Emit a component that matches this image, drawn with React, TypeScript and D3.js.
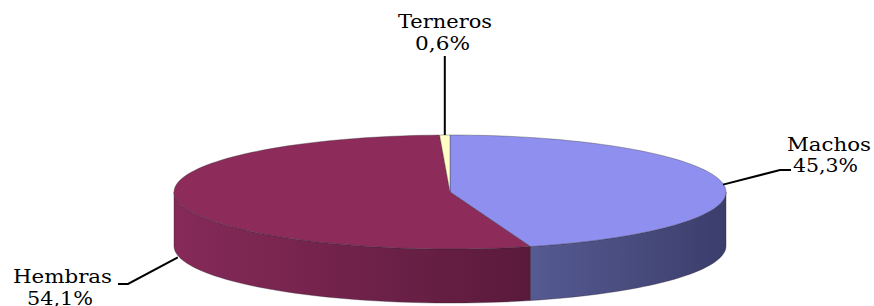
import * as d3 from "d3";
import React from "react";

const categories = ["Machos", "Hembras", "Terneros"];
const values = [45.3, 54.1, 0.6];
const valueLabels = ["45,3%", "54,1%", "0,6%"];

const topColors = ["#8f8ff0", "#8d2b5b", "#ffffc6"];
const sideColors: [string, string][] = [
  ["#555a92", "#3b3e6b"],
  ["#862a59", "#5a1a3b"],
  ["#d8d8a0", "#b8b880"],
];

const W = 874;
const H = 306;
const cx = 450;
const cy = 192;
const rx = 276;
const ry = 57;
const depth = 54;

const pt = (a: number, dy = 0): [number, number] => [
  cx + rx * Math.sin(a),
  cy - ry * Math.cos(a) + dy,
];

const topPath = (a0: number, a1: number) => {
  const p = d3.path();
  p.moveTo(cx, cy);
  const n = Math.max(2, Math.ceil(((a1 - a0) / Math.PI) * 90));
  for (let i = 0; i <= n; i++) {
    const [x, y] = pt(a0 + ((a1 - a0) * i) / n);
    p.lineTo(x, y);
  }
  p.closePath();
  return p.toString();
};

const sidePath = (a0: number, a1: number) => {
  const p = d3.path();
  const n = Math.max(2, Math.ceil(((a1 - a0) / Math.PI) * 90));
  for (let i = 0; i <= n; i++) {
    const [x, y] = pt(a0 + ((a1 - a0) * i) / n);
    if (i === 0) p.moveTo(x, y);
    else p.lineTo(x, y);
  }
  for (let i = n; i >= 0; i--) {
    const [x, y] = pt(a0 + ((a1 - a0) * i) / n, depth);
    p.lineTo(x, y);
  }
  p.closePath();
  return p.toString();
};

// label layout: name line and value line (x start, baseline, width)
const labelLayout = [
  { nx: 787, ny: 151, nw: 84, vx: 793, vy: 172, vw: 65 },
  { nx: 13, ny: 283, nw: 99, vx: 27, vy: 305, vw: 66 },
  { nx: 398, ny: 28, nw: 94, vx: 415, vy: 50, vw: 55 },
];

const App: React.FC = () => {
  const arcs = d3
    .pie<number>()
    .sort(null)
    .startAngle(0)
    .endAngle(2 * Math.PI)(values);

  const front0 = Math.PI / 2;
  const front1 = (3 * Math.PI) / 2;

  const font = "'DejaVu Serif', serif";

  return (
    <svg
      width={W}
      height={H}
      style={{ position: "absolute", left: 0, top: 0, background: "#fff" }}
    >
      <defs>
        {arcs.map((a, i) => {
          const s = Math.max(a.startAngle, front0);
          const e = Math.min(a.endAngle, front1);
          const x0 = s < e ? pt(s)[0] : 0;
          const x1 = s < e ? pt(e)[0] : 1;
          return (
            <linearGradient
              key={i}
              id={`side${i}`}
              gradientUnits="userSpaceOnUse"
              x1={Math.min(x0, x1)}
              x2={Math.max(x0, x1)}
              y1={0}
              y2={0}
            >
              <stop offset="0%" stopColor={sideColors[i][0]} />
              <stop offset="100%" stopColor={sideColors[i][1]} />
            </linearGradient>
          );
        })}
      </defs>
      {/* side walls */}
      {arcs.map((a, i) => {
        const s = Math.max(a.startAngle, front0);
        const e = Math.min(a.endAngle, front1);
        if (s >= e) return null;
        return (
          <path
            key={`s${i}`}
            d={sidePath(s, e)}
            fill={`url(#side${i})`}
            stroke="#2a1a2a"
            strokeWidth={0.6}
            strokeOpacity={0.6}
          />
        );
      })}
      {/* top faces */}
      {arcs.map((a, i) => (
        <path
          key={`t${i}`}
          d={topPath(a.startAngle, a.endAngle)}
          fill={topColors[i]}
          stroke="#333"
          strokeWidth={0.6}
          strokeOpacity={0.6}
        />
      ))}
      {/* leader lines and labels */}
      {arcs.map((a, i) => {
        const mid = (a.startAngle + a.endAngle) / 2;
        const lp = labelLayout[i];
        let d: string;
        if (i === 0) {
          const [ax, ay] = pt(mid);
          d = `M${ax},${ay + 1}L${lp.vx - 13},${lp.vy - 2}L${lp.vx - 2},${lp.vy - 2}`;
        } else if (i === 1) {
          const [ax, ay] = pt(mid, depth + 2);
          d = `M${ax},${ay}L${lp.nx + lp.nw + 16},${lp.ny + 1}L${lp.nx + lp.nw + 6},${lp.ny + 1}`;
        } else {
          const [ax, ay] = pt(mid);
          d = `M${ax},${ay}L${ax},${lp.vy + 6}`;
        }
        return (
          <g key={`l${i}`}>
            <path d={d} fill="none" stroke="#000" strokeWidth={2} />
            <text
              x={lp.nx}
              y={lp.ny}
              textLength={lp.nw}
              lengthAdjust="spacingAndGlyphs"
              fontFamily={font}
              fontSize={18}
              fill="#000"
            >
              {categories[i]}
            </text>
            <text
              x={lp.vx}
              y={lp.vy}
              textLength={lp.vw}
              lengthAdjust="spacingAndGlyphs"
              fontFamily={font}
              fontSize={18}
              fill="#000"
            >
              {valueLabels[i]}
            </text>
          </g>
        );
      })}
    </svg>
  );
};

export default App;
